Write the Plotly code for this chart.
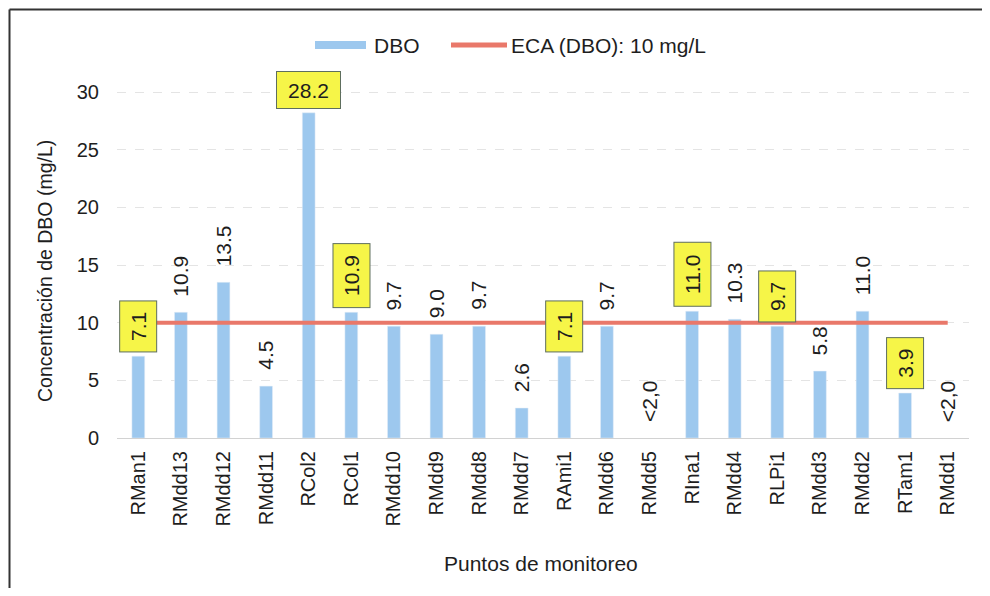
import plotly.graph_objects as go

# monitoring points and BOD values (None = below detection limit)
puntos = ["RMan1", "RMdd13", "RMdd12", "RMdd11", "RCol2", "RCol1", "RMdd10", "RMdd9",
          "RMdd8", "RMdd7", "RAmi1", "RMdd6", "RMdd5", "RIna1", "RMdd4", "RLPi1",
          "RMdd3", "RMdd2", "RTam1", "RMdd1"]
dbo = [7.1, 10.9, 13.5, 4.5, 28.2, 10.9, 9.7, 9.0, 9.7, 2.6, 7.1, 9.7, None, 11.0,
       10.3, 9.7, 5.8, 11.0, 3.9, None]
etiquetas = ["7.1", "10.9", "13.5", "4.5", "28.2", "10.9", "9.7", "9.0", "9.7", "2.6",
             "7.1", "9.7", "<2,0", "11.0", "10.3", "9.7", "5.8", "11.0", "3.9", "<2,0"]
resaltados = ["RMan1", "RCol2", "RCol1", "RAmi1", "RIna1", "RLPi1", "RTam1"]
eca = 10
nombre_eca = "ECA (DBO): 10 mg/L"

W, H = 974, 580
L, R, T, B = 109, 13, 61, 150
pw, ph = W - L - R, H - T - B
FONT = "Liberation Sans, Arial"


def px(x):
    return (x - L) / pw


def py(y):
    return (H - B - y) / ph


fig = go.Figure()

fig.add_trace(go.Bar(x=puntos, y=dbo, name="DBO", marker_color="#9DC8EE",
                     width=0.3))
fig.add_trace(go.Scatter(x=puntos, y=[eca] * len(puntos), mode="lines",
                         name=nombre_eca, line=dict(color="#E9786A", width=4)))

# value labels above bars
for p, v, t in zip(puntos, dbo, etiquetas):
    y = v if v is not None else 0
    hl = p in resaltados
    horizontal = (p == "RCol2")
    box = dict(width=13 * len(t) + 5, height=30, bgcolor="#F6F548",
               bordercolor="#5E6E5E", borderwidth=1, borderpad=3) if hl else dict(borderpad=2)
    fig.add_annotation(
        x=p, y=y, text=t, showarrow=False,
        textangle=0 if horizontal else -90,
        yanchor="bottom", xanchor="center", yshift=4 if hl else 13,
        font=dict(family=FONT, size=21, color="#1E1E1E"),
        **box,
    )

# legend drawn at the top
fig.add_shape(type="rect", xref="paper", yref="paper",
              x0=px(307), x1=px(358), y0=py(41), y1=py(33),
              fillcolor="#9DC8EE", line=dict(width=0))
fig.add_annotation(xref="paper", yref="paper", x=px(364), y=py(37), text="DBO",
                   showarrow=False, xanchor="left", yanchor="middle",
                   font=dict(family=FONT, size=21, color="#1E1E1E"))
fig.add_shape(type="line", xref="paper", yref="paper",
              x0=px(443), x1=px(499), y0=py(37), y1=py(37),
              line=dict(color="#E9786A", width=5))
fig.add_annotation(xref="paper", yref="paper", x=px(501), y=py(37), text=nombre_eca,
                   showarrow=False, xanchor="left", yanchor="middle",
                   font=dict(family=FONT, size=21, color="#1E1E1E"))

# axis titles
fig.add_annotation(xref="paper", yref="paper", x=px(533), y=py(555),
                   text="Puntos de monitoreo", showarrow=False,
                   xanchor="center", yanchor="middle",
                   font=dict(family=FONT, size=21, color="#1E1E1E"))
fig.add_annotation(xref="paper", yref="paper", x=px(37), y=py(263),
                   text="Concentración de DBO (mg/L)", showarrow=False, textangle=-90,
                   xanchor="center", yanchor="middle",
                   font=dict(family=FONT, size=19.5, color="#1E1E1E"))

fig.update_layout(
    width=W, height=H,
    paper_bgcolor="white", plot_bgcolor="white",
    margin=dict(l=L, r=R, t=T, b=B, autoexpand=False),
    font=dict(family=FONT, size=20, color="#1E1E1E"),
    showlegend=False,
    bargap=0.7,
)
fig.update_xaxes(tickangle=-90, tickfont=dict(size=20), showgrid=False,
                 ticks="", showline=False, ticklabelstandoff=8)
fig.update_yaxes(range=[0, 32], tickvals=[0, 5, 10, 15, 20, 25, 30],
                 tickfont=dict(size=20), gridcolor="#E4E4E4", griddash="dash",
                 zeroline=True, zerolinecolor="#D2D2D2", zerolinewidth=1,
                 ticklabelstandoff=17)

# outer frame (left and top edges)
fx0 = px(1.5)
fy1 = py(1.5)
fig.add_shape(type="line", xref="paper", yref="paper", x0=fx0, x1=fx0,
              y0=py(H), y1=fy1, line=dict(color="#333333", width=2))
fig.add_shape(type="line", xref="paper", yref="paper", x0=fx0, x1=px(W),
              y0=fy1, y1=fy1, line=dict(color="#333333", width=2))

fig.write_html("out.html")
